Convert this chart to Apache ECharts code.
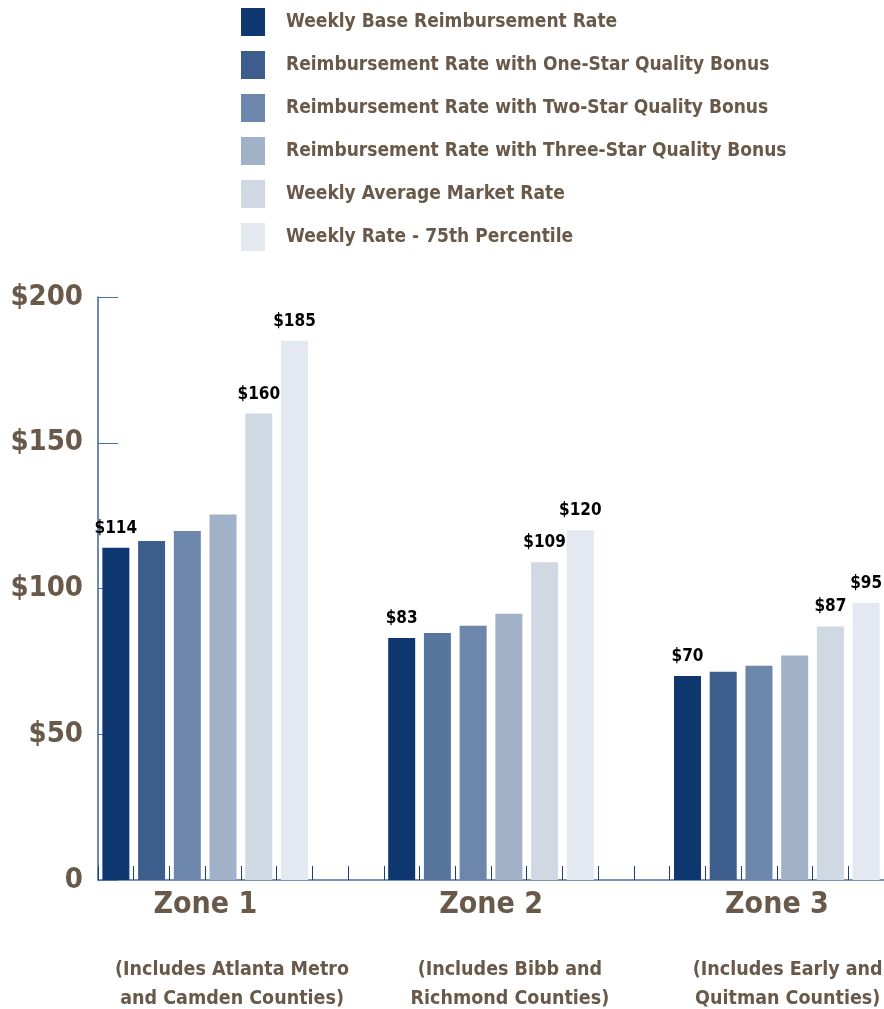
<!DOCTYPE html>
<html>
<head>
<meta charset="utf-8">
<script src="https://cdn.jsdelivr.net/npm/echarts@6/dist/echarts.min.js"></script>
<style>
  html, body { margin: 0; padding: 0; background: #fff; }
  #main { width: 884px; height: 1009px; }
</style>
</head>
<body>
<div id="main"></div>
<script>
// 数据
var zones = ['Zone 1', 'Zone 2', 'Zone 3'];
var zoneNotes = [
    ['(Includes Atlanta Metro', 'and Camden Counties)'],
    ['(Includes Bibb and', 'Richmond Counties)'],
    ['(Includes Early and', 'Quitman Counties)']
];
var seriesNames = [
    'Weekly Base Reimbursement Rate',
    'Reimbursement Rate with One-Star Quality Bonus',
    'Reimbursement Rate with Two-Star Quality Bonus',
    'Reimbursement Rate with Three-Star Quality Bonus',
    'Weekly Average Market Rate',
    'Weekly Rate - 75th Percentile'
];
var baseRate = [114, 83, 70];
var oneStar = [116.3, 84.7, 71.4];
var twoStar = [119.7, 87.2, 73.5];
var threeStar = [125.4, 91.3, 77];
var avgMarket = [160, 109, 87];
var pct75 = [185, 120, 95];
var yTicks = [0, 50, 100, 150, 200];

var colors = ['#0e386f', '#3d5e8c', '#6c87ab', '#a0b1c8', '#d0d8e3', '#e4e8f0'];
var labelled = [true, false, false, false, true, true];
var FONT = "'Liberation Sans Narrow', 'DejaVu Sans Condensed', 'Roboto Condensed', 'Liberation Sans', sans-serif";
var BROWN = '#68594a';

// 每个区 6 根柱 + 2 个空位
var SLOTS = 8;
var categories = [];
for (var z = 0; z < zones.length; z++) {
    var n = z < zones.length - 1 ? SLOTS : 6;
    for (var k = 0; k < n; k++) categories.push(z + '-' + k);
}

var allValues = [baseRate, oneStar, twoStar, threeStar, avgMarket, pct75];

var series = seriesNames.map(function(name, i) {
    var data = categories.map(function() { return null; });
    allValues[i].forEach(function(v, z) {
        // Zone 2 的一星柱颜色略浅
        if (i === 1 && z === 1) {
            data[z * SLOTS + i] = { value: v, itemStyle: { color: '#58759e' } };
        } else {
            data[z * SLOTS + i] = v;
        }
    });
    return {
        name: name,
        type: 'bar',
        data: data,
        barWidth: 27,
        barGap: '-100%',
        itemStyle: { color: colors[i] },
        label: {
            show: labelled[i],
            position: 'top',
            distance: 11,
            formatter: function(p) { return '$' + p.value; },
            fontFamily: FONT,
            fontWeight: 'bold',
            fontSize: 17,
            color: '#000'
        }
    };
});

var noteStyle = function(pad) {
    return { fontFamily: FONT, fontWeight: 'bold', fontSize: 19.5, color: BROWN, lineHeight: 29, padding: pad };
};

var option = {
    animation: false,
    backgroundColor: '#fff',
    color: colors,
    legend: {
        data: seriesNames,
        orient: 'vertical',
        left: 236,
        top: 3,
        icon: 'rect',
        itemWidth: 24,
        itemHeight: 28,
        itemGap: 15,
        textStyle: {
            fontFamily: FONT,
            fontWeight: 'bold',
            fontSize: 19,
            color: BROWN,
            padding: [0, 0, 0, 16]
        }
    },
    grid: {
        left: 98,
        right: 0,
        top: 297,
        bottom: 129,
        outerBoundsMode: 'none'
    },
    xAxis: [{
        type: 'category',
        data: categories,
        axisLine: { lineStyle: { color: '#4a6fa5', width: 1.5 } },
        axisTick: {
            show: true,
            inside: true,
            length: 14,
            interval: 0,
            lineStyle: { color: '#1f3f73', width: 1 }
        },
        axisLabel: {
            interval: function(idx) { return idx % SLOTS === 2; },
            margin: 10,
            formatter: function(v, idx) { return zones[Math.floor(idx / SLOTS)]; },
            padding: [0, 0, 0, 36],
            fontFamily: FONT,
            fontWeight: 'bold',
            fontSize: 30,
            color: BROWN
        }
    }, {
        type: 'category',
        data: categories,
        position: 'bottom',
        offset: 75,
        axisLine: { show: false },
        axisTick: { show: false },
        axisLabel: {
            interval: function(idx) { return idx % SLOTS === 3; },
            margin: 0,
            formatter: function(v, idx) {
                var z = Math.floor(idx / SLOTS);
                var key = 'n' + z;
                return zoneNotes[z].map(function(t) { return '{' + key + '|' + t + '}'; }).join('\n');
            },
            rich: {
                n0: noteStyle([0, 0, 0, 18]),
                n1: noteStyle([0, 0, 0, 2]),
                n2: noteStyle([0, 14, 0, 0])
            }
        }
    }],
    yAxis: {
        type: 'value',
        min: yTicks[0],
        max: yTicks[yTicks.length - 1],
        interval: 50,
        splitLine: { show: false },
        axisLine: { show: true, lineStyle: { color: '#3b62a0', width: 1.5 } },
        axisTick: {
            show: true,
            inside: true,
            length: 20,
            lineStyle: { color: '#4a6fa5' }
        },
        axisLabel: {
            margin: 15,
            formatter: function(v) { return v === 0 ? '0' : '$' + v; },
            fontFamily: FONT,
            fontWeight: 'bold',
            fontSize: 29,
            color: BROWN
        }
    },
    series: series
};

var chart = echarts.init(document.getElementById('main'), null, { renderer: 'canvas' });
chart.setOption(option);
</script>
</body>
</html>
